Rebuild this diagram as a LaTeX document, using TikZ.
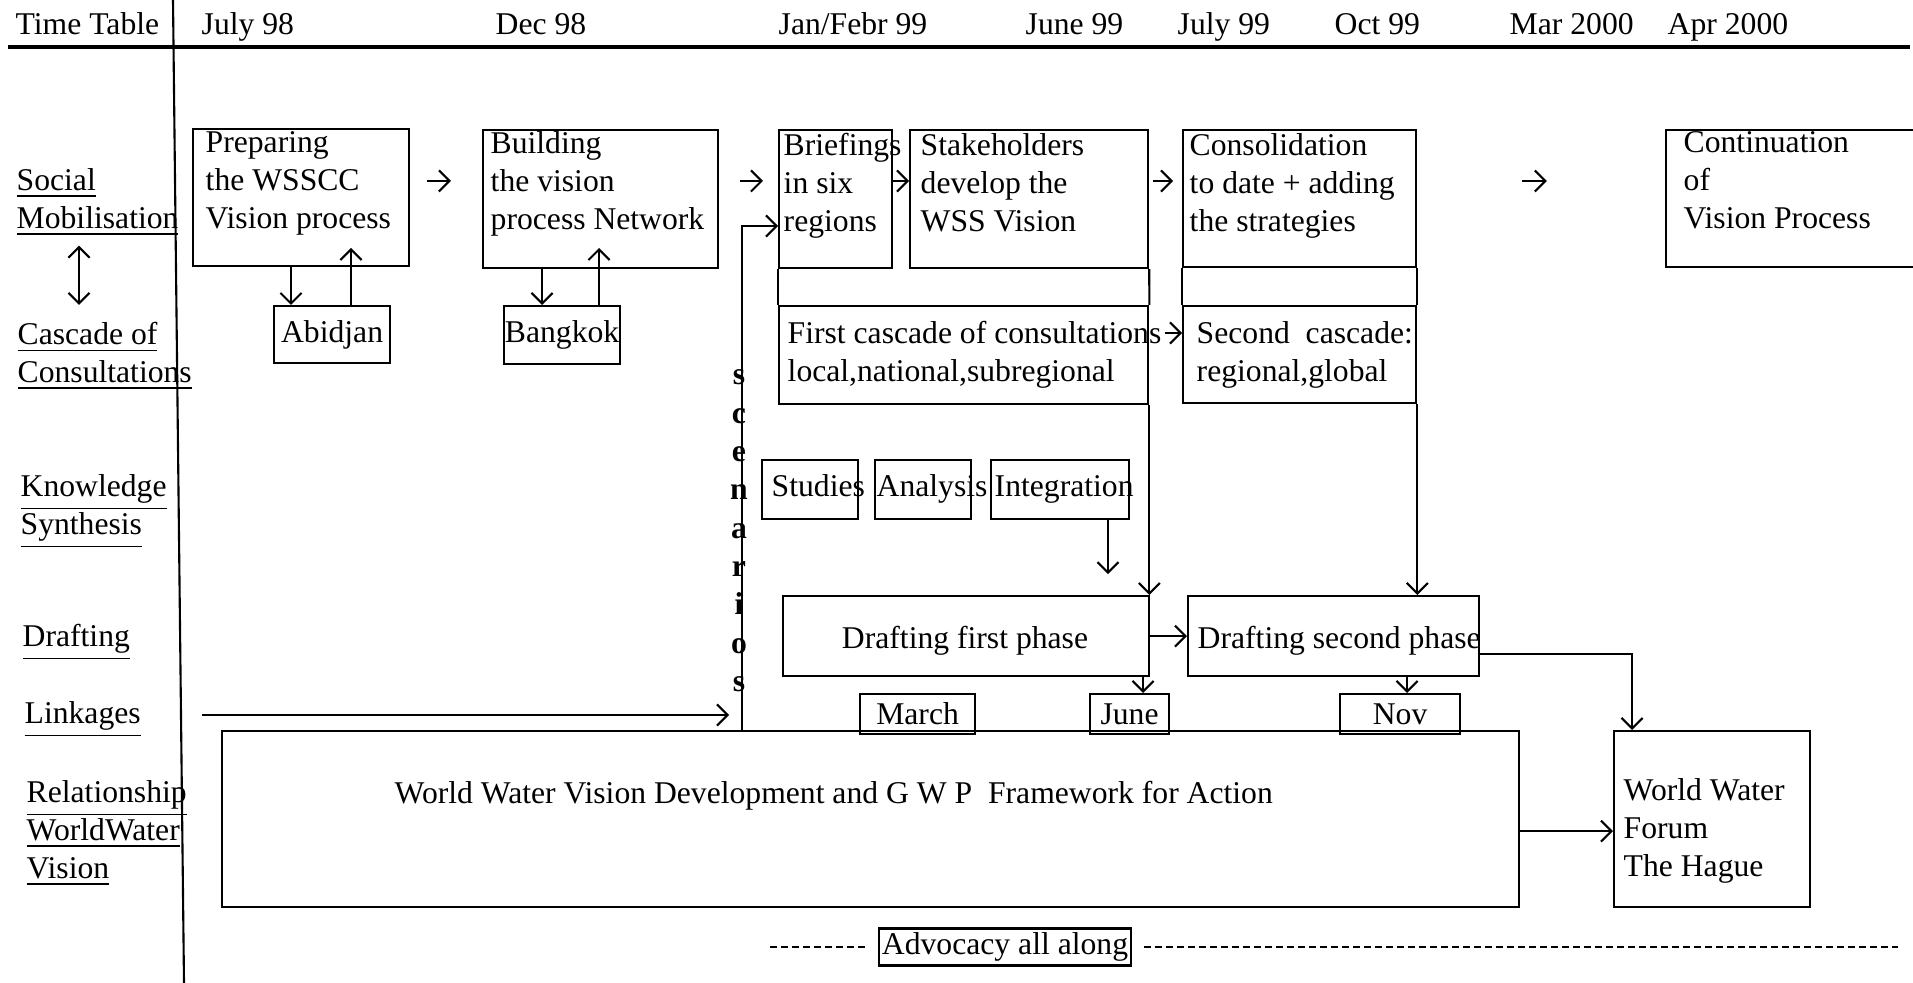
\documentclass[tikz,border=0pt]{standalone}
\usepackage{fontspec}
\setmainfont{Liberation Serif}
\usetikzlibrary{arrows.meta}

\begin{document}
\begin{tikzpicture}[
                x=0.01cm, y=-0.01cm,
                font=\fontsize{9}{10.8}\selectfont,
                box/.style={draw, semithick, anchor=north west, inner sep=0},
                txt/.style={anchor=north west, inner sep=0, align=left},
                hdr/.style={anchor=base west, inner sep=0},
                letter/.style={anchor=base, inner sep=0, font=\fontsize{9}{10.8}\selectfont\bfseries},
                arr/.style={semithick, -{Straight Barb[length=3pt,width=6pt]}},
                biarr/.style={semithick, {Straight Barb[length=3pt,width=6pt]}-{Straight Barb[length=3pt,width=6pt]}},
                dashline/.style={semithick, dash pattern=on 0.07cm off 0.04cm}]
            \useasboundingbox (0,0) rectangle (1913,983);
            \clip (0,0) rectangle (1913,983);

            \node[hdr] (tt) at (15,35) {Time Table};
            \node[hdr] (t1) at (201,35) {July 98};
            \node[hdr] (t2) at (495,35) {Dec 98};
            \node[hdr] (t3) at (778,35) {Jan/Febr 99};
            \node[hdr] (t4) at (1025,35) {June 99};
            \node[hdr] (t5) at (1177,35) {July 99};
            \node[hdr] (t6) at (1334,35) {Oct 99};
            \node[hdr] (t7) at (1509,35) {Mar 2000};
            \node[hdr] (t8) at (1667,35) {Apr 2000};
            \draw[very thick] (8,47) -- (1910,47);
            \draw[semithick] (173,0) -- (184,983);

            \node[txt] (soc) at (16,168) {\underline{Social}\\\underline{Mobilisation}};
            \node[txt] (cas) at (17,322) {\underline{Cascade of}\\\underline{Consultations}};
            \node[txt] (kno) at (20,474) {\underline{Knowledge}\\\underline{Synthesis}};
            \node[hdr] (dra) at (22,647) {\underline{Drafting}};
            \node[hdr] (lnk) at (24,724) {\underline{Linkages}};
            \node[txt] (rel) at (26,780) {\underline{Relationship}\\\underline{WorldWater}\\\underline{Vision}};
            \coordinate (bd) at (79,0);
            \draw[biarr, shorten <=0.09cm, shorten >=0.17cm] (soc.south -| bd) -- (cas.north -| bd);

            \node[box, minimum width=2.16cm, minimum height=1.37cm] (prep) at (192,128) {};
            \node[box, minimum width=1.16cm, minimum height=0.57cm] (abid) at (273,305) {Abidjan};
            \node[box, minimum width=2.35cm, minimum height=1.38cm] (build) at (482,129) {};
            \node[box, minimum width=1.16cm, minimum height=0.58cm] (bang) at (503,305) {Bangkok};
            \node[box, minimum width=1.13cm, minimum height=1.38cm] (brief) at (778,129) {};
            \node[box, minimum width=2.38cm, minimum height=1.38cm] (stake) at (909,129) {};
            \node[box, minimum width=3.69cm, minimum height=0.98cm] (casc1) at (778,305) {};
            \node[box, minimum width=2.33cm, minimum height=1.37cm] (cons) at (1182,129) {};
            \node[box, minimum width=2.33cm, minimum height=0.97cm] (casc2) at (1182,305) {};
            \node[box, minimum width=2.70cm, minimum height=1.37cm] (cont) at (1665,129) {};
            \node[txt] (prept) at (205,131) {Preparing\\the WSSCC\\ Vision process};
            \node[txt] (buildt) at (490,131) {Building\\the vision\\process Network};
            \node[txt] (brieft) at (783,133) {Briefings\\in six\\regions};
            \node[txt] (staket) at (920,133) {Stakeholders\\develop the\\WSS Vision};
            \node[txt] (const) at (1189,133) {Consolidation\\to date + adding\\the strategies};
            \node[txt] (contt) at (1683,131) {Continuation\\of\\Vision Process};
            \node[txt] (casc1t) at (787,321) {First cascade of consultations\\local,national,subregional};
            \node[txt] (casc2t) at (1196,321) {Second~ cascade:\\regional,global};

            \node[box, minimum width=0.96cm, minimum height=0.59cm] (stud) at (761,459) {};
            \node[box, minimum width=0.96cm, minimum height=0.59cm] (anal) at (874,459) {};
            \node[box, minimum width=1.38cm, minimum height=0.59cm] (integ) at (990,459) {};
            \node[hdr] (studt) at (771,497) {Studies};
            \node[hdr] (analt) at (876,497) {Analysis};
            \node[hdr] (integt) at (994,497) {Integration};

            \node[box, minimum width=3.66cm, minimum height=0.80cm] (df1) at (782,595) {};
            \node[box, minimum width=2.91cm, minimum height=0.80cm] (ds2) at (1187,595) {};
            \node[anchor=base, inner sep=0] (df1t) at (965,649) {Drafting first phase};
            \node[hdr] (ds2t) at (1197,649) {Drafting second phase};

            \node[box, minimum width=1.15cm, minimum height=0.40cm] (march) at (859,693) {March};
            \node[box, minimum width=0.79cm, minimum height=0.40cm] (june) at (1089,693) {June};
            \node[box, minimum width=1.20cm, minimum height=0.40cm] (nov) at (1339,693) {Nov};
            \node[box, minimum width=12.96cm, minimum height=1.76cm] (wwv) at (221,730) {};
            \node[hdr] (wwvt) at (394,803) {World Water Vision Development and G W P~ Framework for Action};
            \node[box, minimum width=1.96cm, minimum height=1.76cm] (forum) at (1613,730) {};
            \node[txt] (forumt) at (1623,778) {World Water\\Forum\\The Hague};

            \node[draw, semithick, inner sep=0, minimum width=2.51cm, minimum height=0.37cm] (adv) at (1005,947) {Advocacy all along};

            \coordinate (r1) at (0,181);
            \draw[arr, shorten <=0.17cm, shorten >=0.31cm] (prep.east |- r1) -- (build.west |- r1);
            \draw[arr, shorten <=0.21cm, shorten >=0.15cm] (build.east |- r1) -- (brief.west |- r1);
            \draw[arr] (brief.east |- r1) -- (stake.west |- r1);
            \draw[arr, shorten <=0.04cm, shorten >=0.09cm] (stake.east |- r1) -- (cons.west |- r1);
            \draw[arr, shorten <=1.05cm, shorten >=1.18cm] (cons.east |- r1) -- (cont.west |- r1);
            \coordinate (r2) at (0,333);
            \draw[arr, shorten <=0.16cm] (casc1.east |- r2) -- (casc2.west |- r2);

            \draw[semithick] (brief.south west) -- (casc1.north west);
            \draw[semithick] (stake.south east) -- (casc1.north east);
            \draw[semithick] (cons.south west) -- (casc2.north west);
            \draw[semithick] (cons.south east) -- (casc2.north east);

            \path (abid.north west) ++(18,0) coordinate (ab1) ++(60,0) coordinate (ab2);
            \draw[arr] (ab1 |- prep.south) -- (ab1);
            \draw[arr] (ab2) -- ++(0,-57);
            \path (bang.north west) ++(39,0) coordinate (bg1) ++(57,0) coordinate (bg2);
            \draw[arr] (bg1 |- build.south) -- (bg1);
            \draw[arr] (bg2) -- ++(0,-57);

            \coordinate (scn) at (742,226);
            \draw[arr] (scn |- wwv.north) |- (brief.west |- scn);
            \foreach \c [count=\i from 0] in {s,c,e,n,a,r,i,o,s}
                \node[letter] (ltr\i) at (739,385+38.3*\i) {\c};
            \coordinate (lk) at (202,715);
            \draw[arr, shorten >=0.13cm] (lk) -- (lk -| scn);

            \path (integ.south west) ++(118,0) coordinate (ig);
            \draw[arr] (ig) -- ++(0,54);
            \draw[arr] (casc1.south east) -- (casc1.south east |- df1.north);
            \draw[arr] (casc2.south east) -- (casc2.south east |- ds2.north);
            \draw[arr] (df1.east) -- (ds2.west);
            \path (june.north west) ++(54,0) coordinate (jn);
            \draw[arr] (jn |- df1.south) -- (jn);
            \path (nov.north west) ++(68,0) coordinate (nv);
            \draw[arr] (nv |- ds2.south) -- (nv);
            \path (forum.north west) ++(19,0) coordinate (fn);
            \draw[arr] ([yshift=-0.18cm]ds2.east) -| (fn);
            \draw[arr] ([yshift=-0.12cm]wwv.east) -- ([yshift=-0.12cm]forum.west);

            \path (adv.west) ++(-108,0) coordinate (dl);
            \path (adv.east) ++(766,0) coordinate (dr);
            \draw[dashline] (dl) -- ([xshift=-0.11cm]adv.west);
            \draw[dashline] ([xshift=0.12cm]adv.east) -- (dr);
        \end{tikzpicture}
\end{document}
